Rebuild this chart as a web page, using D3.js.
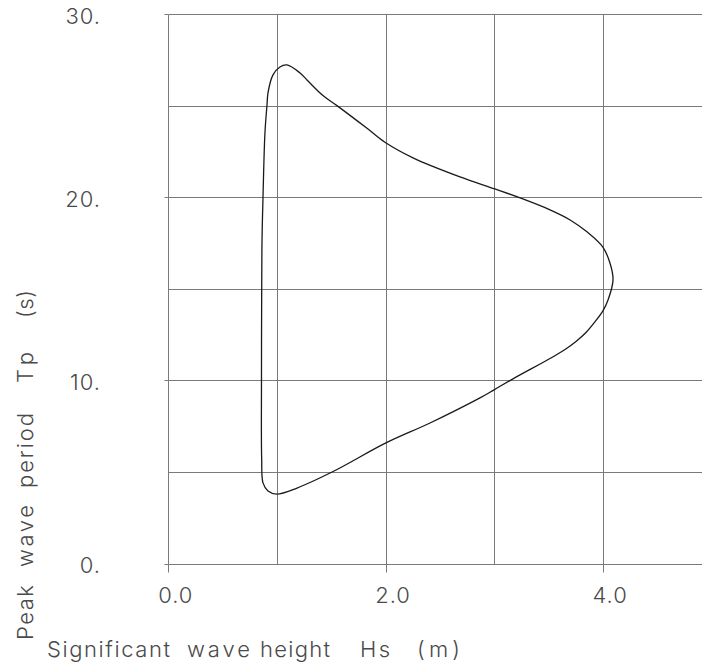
<!DOCTYPE html>
<html>
<head>
<meta charset="utf-8">
<script src="https://cdn.jsdelivr.net/npm/d3@7"></script>
<style>
  html, body { margin: 0; padding: 0; background: #fff; }
  svg { display: block; }
</style>
</head>
<body>
<svg id="chart" width="702" height="669"></svg>
<script>
// Axis ticks and grid
const hsGrid = [0, 1, 2, 3, 4, 5];
const tpGrid = [0, 5, 10, 15, 20, 25, 30];
const hsTicks = [0, 2, 4];
const hsTickLabels = ["0.0", "2.0", "4.0"];
const tpTicks = [0, 10, 20, 30];
const tpTickLabels = ["0.", "10.", "20.", "30."];

// Environmental contour: significant wave height (m) and peak period (s), traced clockwise
const contourHs = [0.998, 1.185, 1.517, 2.004, 2.41, 2.87, 3.0, 3.174, 3.54, 3.653, 3.754, 3.846,
  3.92, 4.002, 4.049, 4.095, 4.067, 4.0, 3.855, 3.70, 3.515, 3.24, 3.008, 2.686, 2.253, 1.995,
  1.83, 1.553, 1.424, 1.277, 1.213, 1.093, 1.028, 0.964, 0.918, 0.909, 0.89, 0.872, 0.863, 0.86,
  0.858, 0.86, 0.872, 0.918];
const contourTp = [3.80, 4.13, 5.03, 6.59, 7.68, 9.05, 9.49, 10.09, 11.28, 11.69, 12.13, 12.62,
  13.14, 13.80, 14.39, 15.49, 16.41, 17.29, 18.11, 18.76, 19.31, 19.96, 20.45, 21.11, 22.15, 23.0,
  23.76, 25.0, 25.55, 26.4, 26.78, 27.22, 27.11, 26.68, 25.7, 25.05, 23.52, 20.0, 17.67, 14.94,
  10.03, 5.66, 4.41, 3.97];

// Axis titles, laid out word by word (start, end in px along the axis)
const xTitleWords = [["Significant", 47, 170], ["wave", 187, 250], ["height", 260, 330],
  ["Hs", 360, 390], ["(m)", 417, 460]];
const yTitleWords = [["Peak", 640, 585], ["wave", 567, 505], ["period", 488, 413],
  ["Tp", 383, 352], ["(s)", 318, 290]];

const svg = d3.select("#chart");
const x = d3.scaleLinear().domain([0, 5]).range([168.3, 711.3]);
const y = d3.scaleLinear().domain([0, 30]).range([563.7, 14]);
const px = v => Math.round(v) + 0.5;

const font = "Inter, 'DejaVu Sans', sans-serif";
const fontWeight = 300;
const gridColor = "#7a7a7a";
const textColor = "#4a4a4a";

// grid
const g = svg.append("g").attr("stroke", gridColor).attr("stroke-width", 1).attr("fill", "none");
g.selectAll("line.v").data(hsGrid).join("line").attr("class", "v")
  .attr("x1", d => px(x(d))).attr("x2", d => px(x(d)))
  .attr("y1", px(y(30))).attr("y2", px(y(0)));
g.selectAll("line.h").data(tpGrid).join("line").attr("class", "h")
  .attr("x1", px(x(0))).attr("x2", px(x(5)))
  .attr("y1", d => px(y(d))).attr("y2", d => px(y(d)));

// tick marks
g.selectAll("line.xt").data(hsTicks).join("line").attr("class", "xt")
  .attr("x1", d => px(x(d))).attr("x2", d => px(x(d)))
  .attr("y1", px(y(0))).attr("y2", px(y(0)) + 8);
g.selectAll("line.yt").data(tpTicks).join("line").attr("class", "yt")
  .attr("x1", px(x(0)) - 4).attr("x2", px(x(0)))
  .attr("y1", d => px(y(d))).attr("y2", d => px(y(d)));

// tick labels
svg.append("g").selectAll("text").data(hsTicks).join("text")
  .attr("x", d => x(d) + 7.5).attr("y", 603)
  .attr("text-anchor", "middle")
  .attr("font-family", font).attr("font-weight", fontWeight)
  .attr("font-size", 22).attr("fill", textColor)
  .attr("letter-spacing", 1)
  .text((d, i) => hsTickLabels[i]);
svg.append("g").selectAll("text").data(tpTicks).join("text")
  .attr("x", 101).attr("y", d => y(d) + 9.5)
  .attr("text-anchor", "end")
  .attr("font-family", font).attr("font-weight", fontWeight)
  .attr("font-size", 22).attr("fill", textColor)
  .attr("letter-spacing", 1)
  .text((d, i) => tpTickLabels[i]);

// contour
const line = d3.line()
  .x(i => x(contourHs[i]))
  .y(i => y(contourTp[i]))
  .curve(d3.curveCatmullRomClosed.alpha(0.5));
svg.append("path")
  .attr("d", line(d3.range(contourHs.length)))
  .attr("fill", "none").attr("stroke", "#1a1a1a").attr("stroke-width", 1.3);

// axis titles
const xt = svg.append("text").attr("y", 657)
  .attr("font-family", font).attr("font-weight", fontWeight)
  .attr("font-size", 22).attr("fill", textColor);
xTitleWords.forEach(([w, a, b]) => {
  xt.append("tspan").attr("x", a).attr("textLength", b - a)
    .attr("lengthAdjust", "spacing").text(w);
});
const yt = svg.append("text").attr("transform", "rotate(-90)").attr("y", 33)
  .attr("font-family", font).attr("font-weight", fontWeight)
  .attr("font-size", 22).attr("fill", textColor);
yTitleWords.forEach(([w, a, b]) => {
  yt.append("tspan").attr("x", -a).attr("textLength", a - b)
    .attr("lengthAdjust", "spacing").text(w);
});
</script>
</body>
</html>
